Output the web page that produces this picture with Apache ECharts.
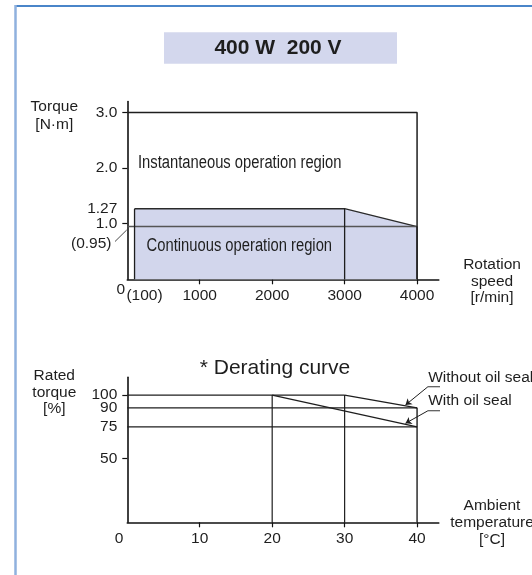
<!DOCTYPE html>
<html>
<head>
<meta charset="utf-8">
<script src="https://cdn.jsdelivr.net/npm/echarts@6/dist/echarts.min.js"></script>
<style>
	html, body { margin: 0; padding: 0; background: #fff; }
	#main { width: 532px; height: 575px; }
</style>
</head>
<body>
<div id="main"></div>
<script>
// torque / speed characteristic
var speedPts = [100, 3000, 4000];
var contTorque = [1.27, 1.27, 0.95];
var peakTorque = 3.0;
var ratedLow = 0.95;
var torqueLabels = [1.27, 2.0, 3.0];
var torqueLabels2 = [1.0];   // sits too close to 1.27, drawn on a twin axis
var torqueTicks = [1.0, 2.0, 3.0];
var speedLabels = [100, 1000, 2000, 3000, 4000];
var speedTicks = [1000, 2000, 3000, 4000];

// derating curve
var noSealX = [30, 40];
var noSealY = [100, 90];
var sealX = [20, 40];
var sealY = [100, 75];
var ratedLabels = [50, 75, 90];
var ratedLabels2 = [100];
var ratedTicks = [50, 100];
var tempLabels = [10, 20, 30, 40];

var FONT = "'Liberation Sans', Arial, sans-serif";
var INK = '#1e1e1e';
var FS = 15.5;

function seg(gi, pts, color, width) {
	return {
		type: 'line', xAxisIndex: gi, yAxisIndex: gi,
		data: pts, symbol: 'none', silent: true,
		lineStyle: { color: color || INK, width: width || 1.3 },
		z: 3
	};
}

function axisX(gi, max, labels, ticks, fmt) {
	return {
		type: 'value', gridIndex: gi, min: 0, max: max,
		axisLine: { show: true, onZero: false, lineStyle: { color: '#111', width: 1.6 } },
		axisTick: { show: true, customValues: ticks, length: 5, lineStyle: { color: '#111', width: 1.2 } },
		axisLabel: {
			customValues: labels, margin: 8, color: INK, fontSize: FS, fontFamily: FONT,
			hideOverlap: false, formatter: fmt,
			rich: { p: { fontSize: FS, fontFamily: FONT, color: INK, padding: [0, 0, 0, 20] } }
		},
		splitLine: { show: false }
	};
}

function axisY(gi, max, labels, ticks, fmt, twin) {
	return {
		type: 'value', gridIndex: gi, min: 0, max: max, position: 'left',
		axisLine: { show: !twin, onZero: false, lineStyle: { color: '#111', width: 1.6 } },
		axisTick: { show: !twin, customValues: ticks, length: 5, lineStyle: { color: '#111', width: 1.2 } },
		axisLabel: {
			customValues: labels, margin: 10, color: INK, fontSize: FS, fontFamily: FONT,
			hideOverlap: false, formatter: fmt
		},
		splitLine: { show: false }
	};
}

function fmtTorque(v) { return v === 1.27 ? '1.27' : v.toFixed(1); }
function fmtPlain(v) { return String(v); }

var contData = speedPts.map(function (s, i) { return [s, contTorque[i]]; });
var topMax = speedPts[speedPts.length - 1];

var series = [
	{
		type: 'line', xAxisIndex: 0, yAxisIndex: 0,
		data: contData, symbol: 'none', silent: true,
		lineStyle: { color: '#2a2a2a', width: 1.3 },
		areaStyle: { color: '#d2d6ec', opacity: 1 },
		z: 2
	},
	seg(0, [[0, ratedLow], [topMax, ratedLow]], '#555', 1.3),
	seg(0, [[0, peakTorque], [topMax, peakTorque], [topMax, 0]], INK, 1.5)
];
speedPts.forEach(function (s, i) {
	series.push(seg(0, [[s, 0], [s, contTorque[i]]], INK, 1.3));
});

// derating
series.push(seg(1, [[0, 100], [noSealX[0], 100]], INK, 1.4));
series.push(seg(1, [[0, noSealY[1]], [40, noSealY[1]]], INK, 1.1));
series.push(seg(1, [[0, sealY[1]], [40, sealY[1]]], INK, 1.1));
series.push(seg(1, [[sealX[0], 0], [sealX[0], 100]], INK, 1.2));
series.push(seg(1, [[noSealX[0], 0], [noSealX[0], 100]], INK, 1.2));
series.push(seg(1, [[40, 0], [40, noSealY[1]]], INK, 1.4));
series.push(seg(1, noSealX.map(function (x, i) { return [x, noSealY[i]]; }), INK, 1.3));
series.push(seg(1, sealX.map(function (x, i) { return [x, sealY[i]]; }), INK, 1.3));

// callouts
var callouts = [
	{ from: [41.5, 106.6], to: [38.4, 92.2], end: 57 },
	{ from: [41.5, 87.7], to: [38.4, 77.8], end: 53.4 }
];
series.push({
	type: 'lines', coordinateSystem: 'cartesian2d', xAxisIndex: 1, yAxisIndex: 1,
	symbol: ['none', 'arrow'], symbolSize: 6, silent: true,
	lineStyle: { color: INK, width: 1, opacity: 1 },
	data: callouts.map(function (c) { return { coords: [c.from, c.to] }; }),
	z: 4
});
callouts.forEach(function (c) {
	var s = seg(1, [c.from, [c.end, c.from[1]]], '#333', 1.1);
	s.clip = false;
	series.push(s);
});

function txt(x, y, text, opt) {
	opt = opt || {};
	var el = {
		type: 'text', x: x, y: y, silent: true, z: 10,
		style: {
			text: text, fill: INK,
			font: opt.font || (FS + 'px ' + FONT),
			align: opt.align || 'center',
			verticalAlign: 'middle',
			lineHeight: opt.lh || 17
		}
	};
	if (opt.sx) { el.scaleX = opt.sx; }
	return el;
}

var option = {
	animation: false,
	grid: [
		{ left: 127.3, top: 101.5, width: 311.5, height: 177.8 },
		{ left: 127.3, top: 377.3, width: 311.5, height: 145 }
	],
	xAxis: [
		axisX(0, 4300, speedLabels, speedTicks, function (v) { return v === 100 ? '{p|(100)}' : String(v); }),
		axisX(1, 43, tempLabels, tempLabels, fmtPlain)
	],
	yAxis: [
		axisY(0, 3.2, torqueLabels, torqueTicks, fmtTorque),
		axisY(1, 114, ratedLabels, ratedTicks, fmtPlain),
		axisY(0, 3.2, torqueLabels2, [], fmtTorque, true),
		axisY(1, 114, ratedLabels2, [], fmtPlain, true)
	],
	series: series,
	graphic: [
		// page frame
		{ type: 'line', shape: { x1: 15.5, y1: 6, x2: 532, y2: 6 }, style: { stroke: '#4a85c9', lineWidth: 2 } },
		{ type: 'line', shape: { x1: 15.5, y1: 5, x2: 15.5, y2: 575 }, style: { stroke: '#8fb1de', lineWidth: 2.5 } },
		// title box
		{ type: 'rect', shape: { x: 164, y: 32.3, width: 233, height: 31.4 }, style: { fill: '#d3d7ed' } },
		txt(278, 48.5, '400 W  200 V', { font: 'bold 21px ' + FONT }),
		txt(275, 368.5, '* Derating curve', { font: '21px ' + FONT }),
		txt(54.3, 116, 'Torque\n[N·m]', { lh: 18 }),
		txt(492, 281.5, 'Rotation\nspeed\n[r/min]', { lh: 16.5 }),
		txt(54.3, 392.5, 'Rated\ntorque\n[%]', { lh: 16.7 }),
		txt(492, 522.6, 'Ambient\ntemperature\n[°C]', { lh: 16.8 }),
		txt(120.7, 289.5, '0'),
		txt(119.1, 538.3, '0'),
		txt(111.5, 244, '(0.95)', { align: 'right' }),
		{ type: 'line', shape: { x1: 115, y1: 241.5, x2: 126.7, y2: 230 }, style: { stroke: '#333', lineWidth: 0.9 } },
		txt(138, 163, 'Instantaneous operation region', { align: 'left', font: '18px ' + FONT, sx: 0.82 }),
		txt(146.6, 246, 'Continuous operation region', { align: 'left', font: '18px ' + FONT, sx: 0.82 }),
		txt(428.2, 377.7, 'Without oil seal', { align: 'left' }),
		txt(428.2, 401, 'With oil seal', { align: 'left' })
	]
};

var chart = echarts.init(document.getElementById('main'));
chart.setOption(option);
</script>
</body>
</html>
